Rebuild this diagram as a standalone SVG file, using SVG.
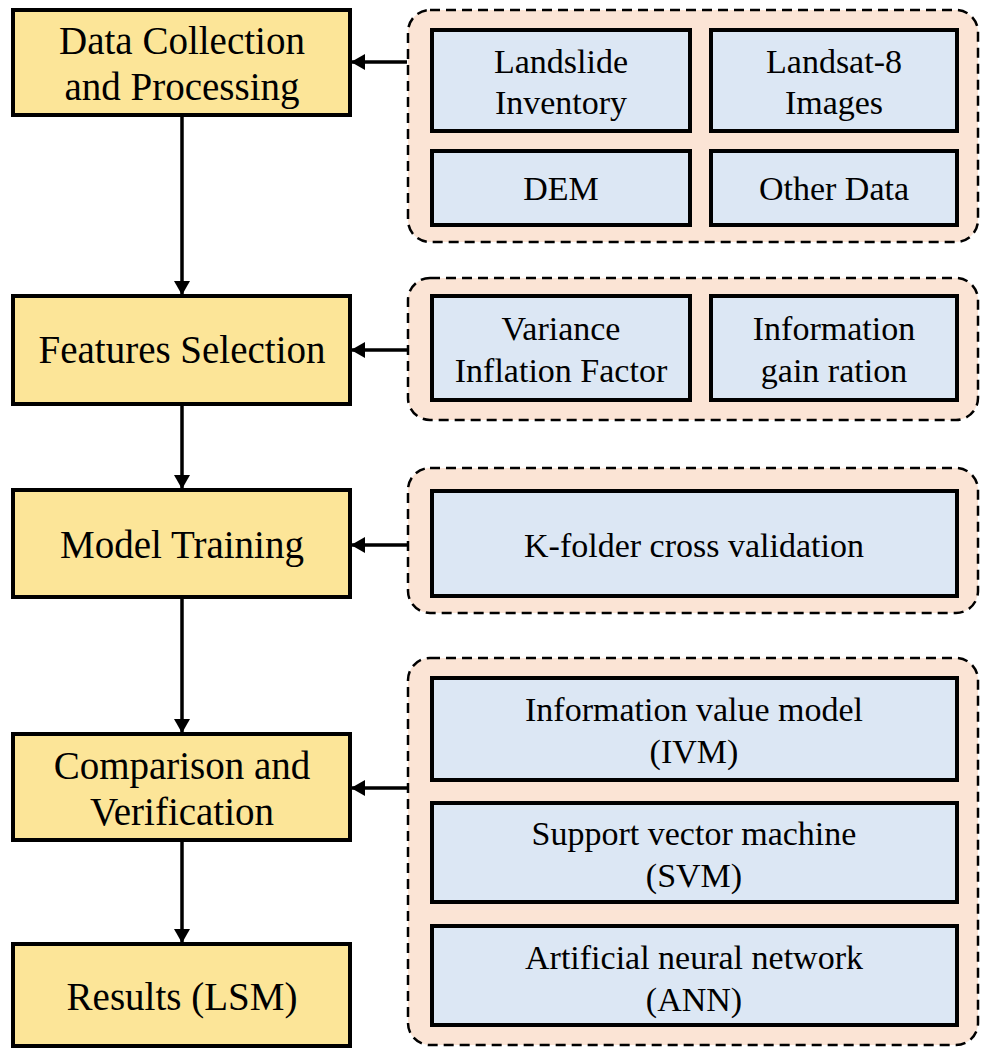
<svg xmlns="http://www.w3.org/2000/svg" width="986" height="1049" viewBox="0 0 986 1049">
<defs>
<marker id="ah" viewBox="0 0 14 16" refX="13" refY="8" markerWidth="14" markerHeight="16" markerUnits="userSpaceOnUse" orient="auto">
<path d="M0,0 L14,8 L0,16 z" fill="#000"/>
</marker>
<style>
.step{fill:#FCE598;stroke:#000;stroke-width:4}
.grp{fill:#FBE4D5;stroke:#000;stroke-width:2.5;stroke-dasharray:10,6}
.item{fill:#DCE7F4;stroke:#000;stroke-width:4}
.conn{stroke:#000;stroke-width:3.5;fill:none;marker-end:url(#ah)}
</style>
</defs>
<rect width="986" height="1049" fill="#fff"/>

<g id="n-data">
<rect class="step" x="13" y="10" width="337" height="105"/>
<text x="182" y="54" font-family="'Liberation Serif', serif" font-size="39" text-anchor="middle">Data Collection</text>
<text x="182" y="100" font-family="'Liberation Serif', serif" font-size="39" text-anchor="middle">and Processing</text>
</g>
<g id="n-features">
<rect class="step" x="13" y="296" width="337" height="108"/>
<text x="182" y="363" font-family="'Liberation Serif', serif" font-size="39" text-anchor="middle">Features Selection</text>
</g>
<g id="n-training">
<rect class="step" x="13" y="490" width="337" height="107"/>
<text x="182" y="558" font-family="'Liberation Serif', serif" font-size="39" text-anchor="middle">Model Training</text>
</g>
<g id="n-compare">
<rect class="step" x="13" y="734" width="337" height="106"/>
<text x="182" y="779" font-family="'Liberation Serif', serif" font-size="39" text-anchor="middle">Comparison and</text>
<text x="182" y="825" font-family="'Liberation Serif', serif" font-size="39" text-anchor="middle">Verification</text>
</g>
<g id="n-results">
<rect class="step" x="13" y="944" width="337" height="102"/>
<text x="182" y="1010" font-family="'Liberation Serif', serif" font-size="39" text-anchor="middle">Results (LSM)</text>
</g>

<g id="g-data">
<rect class="grp" x="408" y="10" width="570" height="232" rx="22"/>
<g id="n-inventory"><rect class="item" x="432" y="30" width="258" height="101"/>
<text x="561" y="73" font-family="'Liberation Serif', serif" font-size="34" text-anchor="middle">Landslide</text>
<text x="561" y="114" font-family="'Liberation Serif', serif" font-size="34" text-anchor="middle">Inventory</text></g>
<g id="n-landsat"><rect class="item" x="711" y="30" width="246" height="101"/>
<text x="834" y="73" font-family="'Liberation Serif', serif" font-size="34" text-anchor="middle">Landsat-8</text>
<text x="834" y="114" font-family="'Liberation Serif', serif" font-size="34" text-anchor="middle">Images</text></g>
<g id="n-dem"><rect class="item" x="432" y="151" width="258" height="74"/>
<text x="561" y="200" font-family="'Liberation Serif', serif" font-size="34" text-anchor="middle">DEM</text></g>
<g id="n-other"><rect class="item" x="711" y="151" width="246" height="74"/>
<text x="834" y="200" font-family="'Liberation Serif', serif" font-size="34" text-anchor="middle">Other Data</text></g>
</g>

<g id="g-features">
<rect class="grp" x="408" y="278" width="570" height="142" rx="22"/>
<g id="n-vif"><rect class="item" x="432" y="296" width="258" height="104"/>
<text x="561" y="340" font-family="'Liberation Serif', serif" font-size="34" text-anchor="middle">Variance</text>
<text x="561" y="382" font-family="'Liberation Serif', serif" font-size="34" text-anchor="middle">Inflation Factor</text></g>
<g id="n-igr"><rect class="item" x="711" y="296" width="246" height="104"/>
<text x="834" y="340" font-family="'Liberation Serif', serif" font-size="34" text-anchor="middle">Information</text>
<text x="834" y="382" font-family="'Liberation Serif', serif" font-size="34" text-anchor="middle">gain ration</text></g>
</g>

<g id="g-training">
<rect class="grp" x="408" y="468" width="570" height="145" rx="22"/>
<g id="n-kfold"><rect class="item" x="432" y="491" width="525" height="105"/>
<text x="694" y="557" font-family="'Liberation Serif', serif" font-size="34" text-anchor="middle">K-folder cross validation</text></g>
</g>

<g id="g-models">
<rect class="grp" x="408" y="658" width="570" height="387" rx="22"/>
<g id="n-ivm"><rect class="item" x="432" y="678" width="525" height="102"/>
<text x="694" y="721" font-family="'Liberation Serif', serif" font-size="34" text-anchor="middle">Information value model</text>
<text x="694" y="763" font-family="'Liberation Serif', serif" font-size="34" text-anchor="middle">(IVM)</text></g>
<g id="n-svm"><rect class="item" x="432" y="803" width="525" height="99"/>
<text x="694" y="845" font-family="'Liberation Serif', serif" font-size="34" text-anchor="middle">Support vector machine</text>
<text x="694" y="887" font-family="'Liberation Serif', serif" font-size="34" text-anchor="middle">(SVM)</text></g>
<g id="n-ann"><rect class="item" x="432" y="926" width="525" height="99"/>
<text x="694" y="969" font-family="'Liberation Serif', serif" font-size="34" text-anchor="middle">Artificial neural network</text>
<text x="694" y="1011" font-family="'Liberation Serif', serif" font-size="34" text-anchor="middle">(ANN)</text></g>
</g>

<g id="connectors">
<line class="conn" x1="182" y1="117" x2="182" y2="294"/>
<line class="conn" x1="182" y1="406" x2="182" y2="488"/>
<line class="conn" x1="182" y1="599" x2="182" y2="732"/>
<line class="conn" x1="182" y1="842" x2="182" y2="942"/>
<line class="conn" x1="407" y1="62" x2="352" y2="62"/>
<line class="conn" x1="407" y1="350" x2="352" y2="350"/>
<line class="conn" x1="407" y1="545" x2="352" y2="545"/>
<line class="conn" x1="407" y1="788" x2="352" y2="788"/>
</g>
</svg>
